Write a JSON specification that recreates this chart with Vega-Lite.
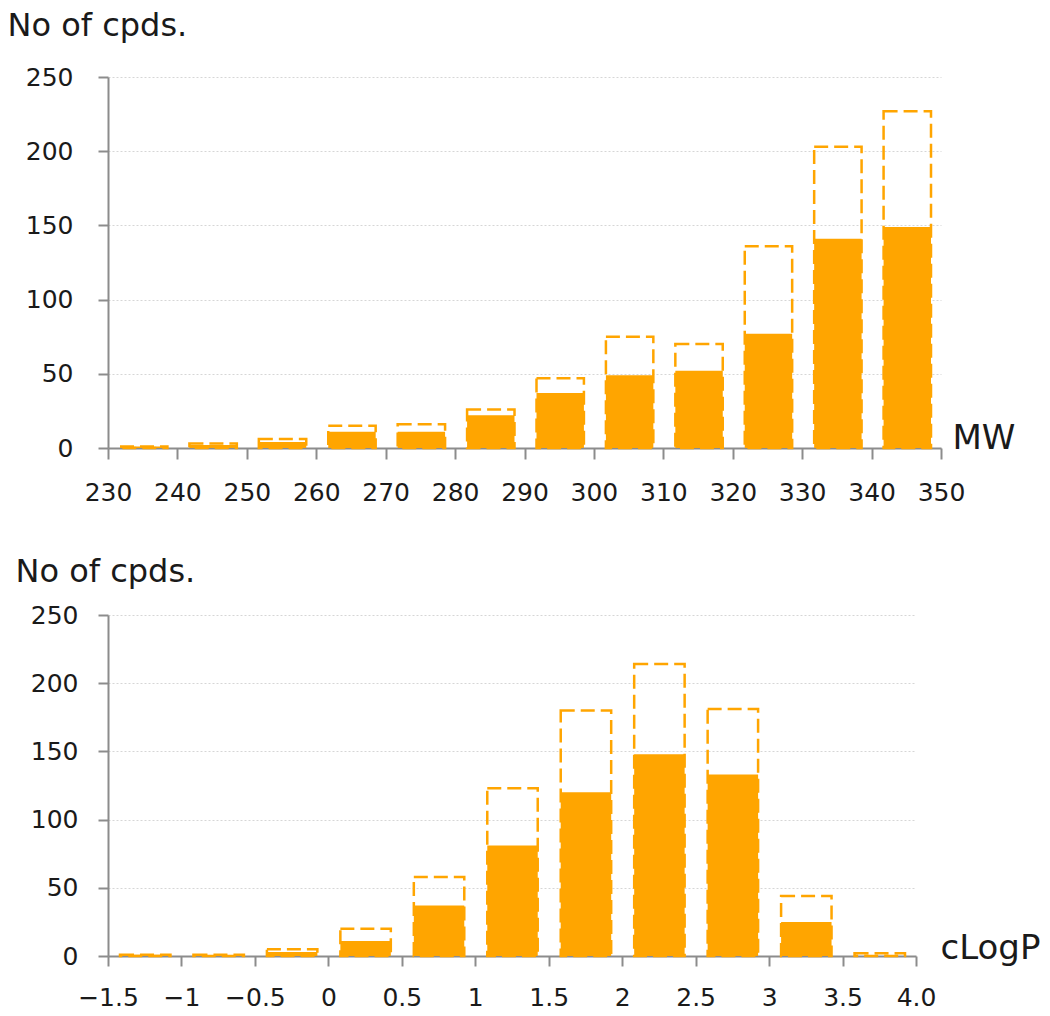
{
  "$schema": "https://vega.github.io/schema/vega-lite/v6.json",
  "padding": {"left": 7, "top": 9, "right": 5, "bottom": 5},
  "background": "white",
  "datasets": {
    "mw": [
      {"lo": 230, "hi": 240, "sel": 1, "total": 1},
      {"lo": 240, "hi": 250, "sel": 2, "total": 3},
      {"lo": 250, "hi": 260, "sel": 4, "total": 6},
      {"lo": 260, "hi": 270, "sel": 11, "total": 15},
      {"lo": 270, "hi": 280, "sel": 11, "total": 16},
      {"lo": 280, "hi": 290, "sel": 22, "total": 26},
      {"lo": 290, "hi": 300, "sel": 37, "total": 47},
      {"lo": 300, "hi": 310, "sel": 49, "total": 75},
      {"lo": 310, "hi": 320, "sel": 52, "total": 70},
      {"lo": 320, "hi": 330, "sel": 77, "total": 136},
      {"lo": 330, "hi": 340, "sel": 141, "total": 203},
      {"lo": 340, "hi": 350, "sel": 149, "total": 227}
    ],
    "clogp": [
      {"lo": -1.5, "hi": -1.0, "sel": 1, "total": 1},
      {"lo": -1.0, "hi": -0.5, "sel": 0, "total": 1},
      {"lo": -0.5, "hi": 0.0, "sel": 3, "total": 5},
      {"lo": 0.0, "hi": 0.5, "sel": 11, "total": 20},
      {"lo": 0.5, "hi": 1.0, "sel": 37, "total": 58},
      {"lo": 1.0, "hi": 1.5, "sel": 81, "total": 123},
      {"lo": 1.5, "hi": 2.0, "sel": 120, "total": 180},
      {"lo": 2.0, "hi": 2.5, "sel": 148, "total": 214},
      {"lo": 2.5, "hi": 3.0, "sel": 133, "total": 181},
      {"lo": 3.0, "hi": 3.5, "sel": 25, "total": 44},
      {"lo": 3.5, "hi": 4.0, "sel": 0, "total": 2}
    ]
  },
  "config": {
    "view": {"stroke": null},
    "font": "DejaVu Sans",
    "axis": {
      "domainColor": "#8c8c8c",
      "domainWidth": 2,
      "tickColor": "#8c8c8c",
      "tickWidth": 2,
      "labelFont": "DejaVu Sans",
      "labelColor": "#1a1a1a",
      "titleFont": "DejaVu Sans",
      "titleColor": "#1a1a1a",
      "titleFontWeight": "normal",
      "gridColor": "#d6d6d6",
      "gridDash": [2, 2],
      "gridWidth": 1,
      "labelFlush": false,
      "labelOverlap": false
    }
  },
  "spacing": 167,
  "bounds": "flush",
  "vconcat": [
    {
      "width": 833,
      "height": 371,
      "data": {"name": "mw"},
      "encoding": {
        "x": {
          "field": "lo",
          "type": "quantitative",
          "scale": {"domain": [230, 350], "nice": false, "zero": false},
          "axis": {
            "values": [230, 240, 250, 260, 270, 280, 290, 300, 310, 320, 330, 340, 350],
            "format": "d",
            "labelFontSize": 25,
            "tickSize": 11,
            "labelPadding": 21,
            "grid": false,
            "title": "MW",
            "titleFontSize": 34,
            "titleAlign": "left",
            "titleBaseline": "alphabetic",
            "titleX": 844,
            "titleY": 0
          }
        },
        "x2": {"field": "hi"},
        "y2": {"datum": 0}
      },
      "layer": [
        {
          "mark": {"type": "bar", "xOffset": 12, "x2Offset": -10, "fill": "#FFA500", "fillOpacity": 0, "stroke": "#FFA500", "strokeWidth": 2.5, "strokeDash": [14, 6]},
          "encoding": {
            "y": {
              "field": "total",
              "type": "quantitative",
              "scale": {"domain": [0, 250], "nice": false},
              "axis": {
                "values": [0, 50, 100, 150, 200, 250],
                "title": "No of cpds.",
                "titleAngle": 0,
                "titleAlign": "left",
                "titleBaseline": "alphabetic",
                "titleX": -101,
                "titleY": -42,
                "titleFontSize": 32,
                "labelFontSize": 25,
                "labelPadding": 25,
                "tickSize": 10,
                "grid": true
              }
            }
          }
        },
        {
          "mark": {"type": "bar", "xOffset": 12, "x2Offset": -10, "color": "#FFA500"},
          "encoding": {
            "y": {
              "field": "sel",
              "type": "quantitative",
              "scale": {"domain": [0, 250], "nice": false},
              "axis": {
                "values": [0, 50, 100, 150, 200, 250],
                "title": "No of cpds.",
                "titleAngle": 0,
                "titleAlign": "left",
                "titleBaseline": "alphabetic",
                "titleX": -101,
                "titleY": -42,
                "titleFontSize": 32,
                "labelFontSize": 25,
                "labelPadding": 25,
                "tickSize": 10,
                "grid": true
              }
            }
          }
        }
      ]
    },
    {
      "width": 808,
      "height": 341,
      "data": {"name": "clogp"},
      "encoding": {
        "x": {
          "field": "lo",
          "type": "quantitative",
          "scale": {"domain": [-1.5, 4], "nice": false, "zero": false},
          "axis": {
            "values": [-1.5, -1, -0.5, 0, 0.5, 1, 1.5, 2, 2.5, 3, 3.5, 4],
            "labelExpr": "datum.value == 4 ? '4.0' : format(datum.value, '~g')",
            "labelFontSize": 25,
            "tickSize": 10,
            "labelPadding": 19,
            "grid": false,
            "title": "cLogP",
            "titleFontSize": 34,
            "titleAlign": "left",
            "titleBaseline": "alphabetic",
            "titleX": 832,
            "titleY": 2
          }
        },
        "x2": {"field": "hi"},
        "y2": {"datum": 0}
      },
      "layer": [
        {
          "mark": {"type": "bar", "xOffset": 12, "x2Offset": -11, "fill": "#FFA500", "fillOpacity": 0, "stroke": "#FFA500", "strokeWidth": 2.5, "strokeDash": [14, 6]},
          "encoding": {
            "y": {
              "field": "total",
              "type": "quantitative",
              "scale": {"domain": [0, 250], "nice": false},
              "axis": {
                "values": [0, 50, 100, 150, 200, 250],
                "title": "No of cpds.",
                "titleAngle": 0,
                "titleAlign": "left",
                "titleBaseline": "alphabetic",
                "titleX": -93,
                "titleY": -34,
                "titleFontSize": 32,
                "labelFontSize": 25,
                "labelPadding": 20,
                "tickSize": 10,
                "grid": true
              }
            }
          }
        },
        {
          "mark": {"type": "bar", "xOffset": 12, "x2Offset": -11, "color": "#FFA500"},
          "encoding": {
            "y": {
              "field": "sel",
              "type": "quantitative",
              "scale": {"domain": [0, 250], "nice": false},
              "axis": {
                "values": [0, 50, 100, 150, 200, 250],
                "title": "No of cpds.",
                "titleAngle": 0,
                "titleAlign": "left",
                "titleBaseline": "alphabetic",
                "titleX": -93,
                "titleY": -34,
                "titleFontSize": 32,
                "labelFontSize": 25,
                "labelPadding": 20,
                "tickSize": 10,
                "grid": true
              }
            }
          }
        }
      ]
    }
  ]
}
